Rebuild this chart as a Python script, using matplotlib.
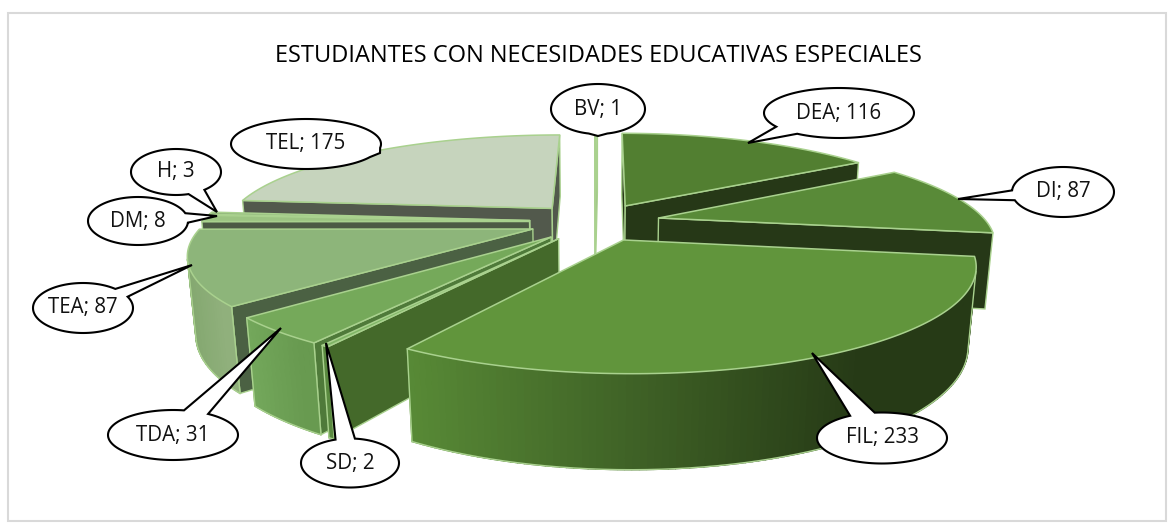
import matplotlib
matplotlib.use('Agg')
import matplotlib.pyplot as plt
import numpy as np
from matplotlib.colors import to_rgb
from matplotlib.patches import Polygon, Rectangle

categories = ['BV', 'DEA', 'DI', 'FIL', 'SD', 'TDA', 'TEA', 'DM', 'H', 'TEL']
values = [1, 116, 87, 233, 2, 31, 87, 8, 3, 175]
title = 'ESTUDIANTES CON NECESIDADES EDUCATIVAS ESPECIALES'

top_colors = ['#b5d8a0', '#527f31', '#598a38', '#61953c', '#7fb565', '#75a95a', '#8db57a', '#9cc482', '#8fb47a', '#c6d4bd']
edge_colors = ['#9dbb87', '#263817', '#263817', '#263817', '#44692a', '#4f7a3a', '#4b6143', '#4c5a44', '#4c5a44', '#52594c']
side_right = ['#a9d18e', '#263817', '#263817', '#263a16', '#5a8a40', '#689a50', '#90b07c', '#90b07c', '#90b07c', '#adbca2']
side_left = ['#a9d18e', '#263817', '#263817', '#588a36', '#5a8a40', '#74a85c', '#84a870', '#90b07c', '#90b07c', '#adbca2']
line_color = '#a9d18e'

# projection du disque vers les pixels
cx, cy = 595, 222
rx, ry = 328, 95
k_persp = 0.22
k_down = 0.02
height = 76
explode = 0.2

# callouts : centre x, centre y, largeur, hauteur, pointe x, pointe y
callouts = {
    'BV': (598, 109, 94, 50, 598, 136),
    'DEA': (839, 113, 150, 50, 748, 143),
    'DI': (1063, 192, 102, 50, 958, 199),
    'FIL': (882, 438, 130, 51, 812, 353),
    'SD': (350, 463, 98, 49, 326, 343),
    'TDA': (173, 435, 130, 50, 281, 328),
    'TEA': (83, 308, 100, 50, 192, 265),
    'DM': (138, 221, 100, 48, 217, 216),
    'H': (176, 172, 90, 46, 217, 212),
    'TEL': (306, 144, 150, 50, 380, 153),
}


def projeter(x, y, z=0.0):
    s = 1.0 / (1.0 - k_persp * y + k_down * z)
    return cx + rx * x * s, cy + (ry * y) * s + height * z * s


def visible(pts):
    # aire signée dans le repère écran
    a = 0.0
    for i in range(len(pts)):
        x1, y1 = pts[i]
        x2, y2 = pts[(i + 1) % len(pts)]
        a += x1 * y2 - x2 * y1
    return a


def melange(c1, c2, t):
    c1 = np.array(to_rgb(c1))
    c2 = np.array(to_rgb(c2))
    return tuple(c1 + (c2 - c1) * t)


def dessiner_part(ax, t0, t1, i):
    mid = (t0 + t1) / 2
    ax0 = explode * np.sin(mid)
    ay0 = -explode * np.cos(mid)
    n = max(3, int((t1 - t0) * 60))
    th = np.linspace(t0, t1, n)
    xs = ax0 + np.sin(th)
    ys = ay0 - np.cos(th)

    # faces radiales
    for tt, sgn in ((t0, 1), (t1, -1)):
        x1 = ax0 + np.sin(tt)
        y1 = ay0 - np.cos(tt)
        face = [projeter(ax0, ay0), projeter(x1, y1), projeter(x1, y1, 1), projeter(ax0, ay0, 1)]
        if visible(face) * sgn < 0:
            ax.add_patch(Polygon(face, closed=True, facecolor=edge_colors[i], edgecolor=line_color, lw=1.0, zorder=zc[0]))
            zc[0] += 1

    # bord extérieur, un quad par pas pour le dégradé
    bord_haut = []
    bord_bas = []
    x_min = min(projeter(a, b)[0] for a, b in zip(xs, ys))
    x_max = max(projeter(a, b)[0] for a, b in zip(xs, ys))
    for j in range(n - 1):
        quad = [projeter(xs[j], ys[j]), projeter(xs[j + 1], ys[j + 1]),
                projeter(xs[j + 1], ys[j + 1], 1), projeter(xs[j], ys[j], 1)]
        if visible(quad) > 0:
            continue
        t = (quad[0][0] - x_min) / max(1.0, x_max - x_min)
        col = melange(side_left[i], side_right[i], min(1.0, t * 1.25))
        ax.add_patch(Polygon(quad, closed=True, facecolor=col, edgecolor=col, lw=1.0, zorder=zc[0]))
        zc[0] += 1
        bord_bas.append(quad[3])
        bord_bas.append(quad[2])
        bord_haut.append(quad[0])
        bord_haut.append(quad[1])
    if bord_bas:
        bas = np.array(bord_bas)
        ax.plot(bas[:, 0], bas[:, 1], color=line_color, lw=1.0, zorder=zc[0])
        ax.plot([bas[0, 0], bord_haut[0][0]], [bas[0, 1], bord_haut[0][1]], color=line_color, lw=1.0, zorder=zc[0])
        ax.plot([bas[-1, 0], bord_haut[-1][0]], [bas[-1, 1], bord_haut[-1][1]], color=line_color, lw=1.0, zorder=zc[0])
        zc[0] += 1

    # dessus
    dessus = [projeter(ax0, ay0)] + [projeter(a, b) for a, b in zip(xs, ys)]
    ax.add_patch(Polygon(dessus, closed=True, facecolor=top_colors[i], edgecolor=line_color, lw=1.1, joinstyle='round', zorder=zc[0]))
    zc[0] += 1


def bulle(ax, label, value):
    ex, ey, w, h, px, py = callouts[label]
    # angle de la pointe vu depuis le centre de l'ellipse
    ang = np.arctan2((py - ey) / (h / 2), (px - ex) / (w / 2))
    ouverture = 0.2
    th = np.linspace(ang + ouverture, ang + 2 * np.pi - ouverture, 120)
    pts = [(ex + w / 2 * np.cos(a), ey + h / 2 * np.sin(a)) for a in th]
    pts.append((px, py))
    ax.add_patch(Polygon(pts, closed=True, facecolor='white', edgecolor='black', lw=1.5, joinstyle='miter', zorder=5000))
    ax.text(ex, ey, f'{label}; {value}', ha='center', va='center', fontsize=14.8, family='Open Sans', color='#111111', zorder=5001)


fig = plt.figure(figsize=(11.74, 5.29), dpi=100)
ax = fig.add_axes([0, 0, 1, 1])
ax.set_xlim(0, 1174)
ax.set_ylim(529, 0)
ax.axis('off')

ax.add_patch(Rectangle((8, 13), 1158, 508, facecolor='white', edgecolor='#d9d9d9', lw=1.5))
ax.text(598, 56, title, ha='center', va='center', fontsize=17, family='Open Sans', color='black')

angles = np.cumsum([0] + values) / sum(values) * 2 * np.pi
milieux = (angles[:-1] + angles[1:]) / 2
zc = [10]
# de l'arrière vers l'avant
for i in np.argsort(-np.cos(milieux)):
    dessiner_part(ax, angles[i], angles[i + 1], i)

for label, value in zip(categories, values):
    bulle(ax, label, value)

fig.savefig('out.png', dpi=100)
